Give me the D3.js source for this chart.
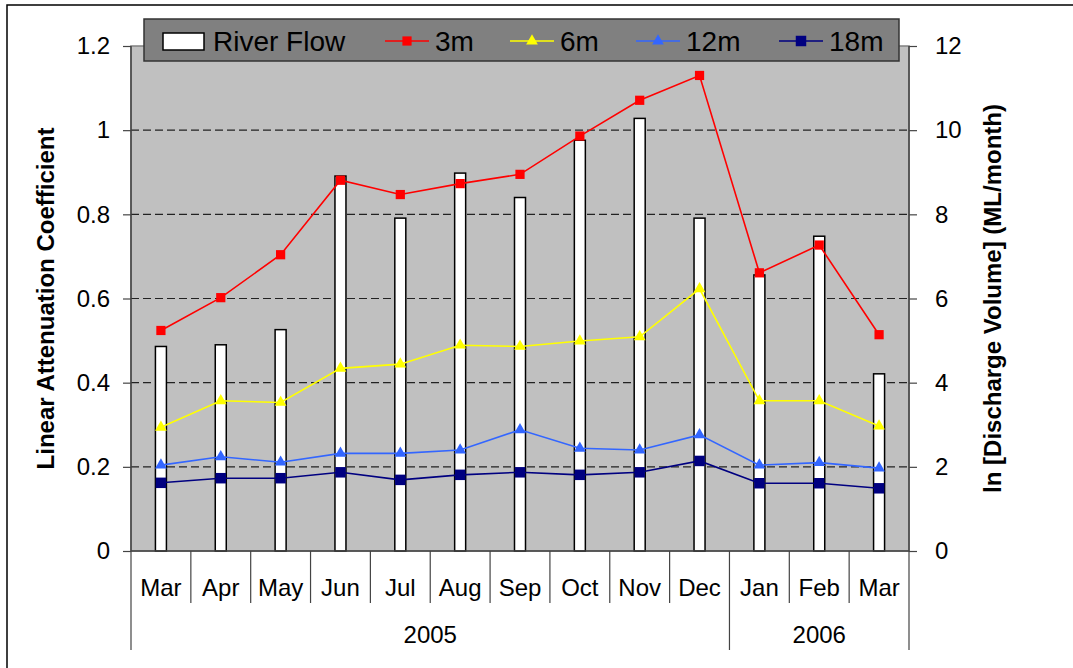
<html>
<head>
<script src="https://d3js.org/d3.v7.min.js"></script>
<style>
  body { margin: 0; background: #fff; }
  svg text { font-family: Arial, "Liberation Sans", sans-serif; fill: #000; }
</style>
</head>
<body>
<div id="chart"></div>
<script>
// data
var months = ["Mar","Apr","May","Jun","Jul","Aug","Sep","Oct","Nov","Dec","Jan","Feb","Mar"];
var years = [{label: "2005", n: 10}, {label: "2006", n: 3}];
var riverFlow = [4.86, 4.90, 5.26, 8.91, 7.91, 8.98, 8.40, 9.76, 10.28, 7.91, 6.56, 7.48, 4.21];
var att3m  = [0.524, 0.602, 0.704, 0.881, 0.847, 0.873, 0.895, 0.986, 1.071, 1.130, 0.661, 0.727, 0.514];
var att6m  = [0.294, 0.357, 0.353, 0.434, 0.444, 0.489, 0.486, 0.499, 0.509, 0.623, 0.357, 0.357, 0.297];
var att12m = [0.204, 0.224, 0.211, 0.232, 0.232, 0.240, 0.288, 0.244, 0.240, 0.276, 0.204, 0.210, 0.197];
var att18m = [0.162, 0.173, 0.173, 0.187, 0.169, 0.181, 0.187, 0.181, 0.187, 0.214, 0.161, 0.161, 0.149];
var leftTicks = [0, 0.2, 0.4, 0.6, 0.8, 1, 1.2];
var rightTicks = [0, 2, 4, 6, 8, 10, 12];

var W = 1073, H = 668;
var pLeft = 131, pRight = 909, pTop = 46, pBottom = 551;

var svg = d3.select("#chart").append("svg")
    .attr("width", W).attr("height", H);

// outer frame
svg.append("rect")
    .attr("x", 7).attr("y", 5).attr("width", 1100).attr("height", 700)
    .attr("fill", "#fff").attr("stroke", "#000").attr("stroke-width", 1.5);

var idx = d3.range(months.length);
var x = d3.scaleBand().domain(idx).range([pLeft, pRight]);
var yL = d3.scaleLinear().domain([0, 1.2]).range([pBottom, pTop]);
var yR = d3.scaleLinear().domain([0, 12]).range([pBottom, pTop]);

// plot background
svg.append("rect")
    .attr("x", pLeft).attr("y", pTop)
    .attr("width", pRight - pLeft).attr("height", pBottom - pTop)
    .attr("fill", "#c0c0c0").attr("stroke", "#808080").attr("stroke-width", 1.5);

// gridlines
svg.append("g").selectAll("line")
    .data(leftTicks.filter(function(d) { return d > 0 && d < 1.2; }))
    .enter().append("line")
    .attr("x1", pLeft).attr("x2", pRight)
    .attr("y1", function(d) { return yL(d); })
    .attr("y2", function(d) { return yL(d); })
    .attr("stroke", "#222").attr("stroke-width", 1.2)
    .attr("stroke-dasharray", "8,4");

// river flow bars
var barW = 11;
svg.append("g").selectAll("rect")
    .data(riverFlow)
    .enter().append("rect")
    .attr("x", function(d, i) { return x(i) + x.bandwidth() / 2 - barW / 2; })
    .attr("y", function(d) { return yR(d); })
    .attr("width", barW)
    .attr("height", function(d) { return pBottom - yR(d); })
    .attr("fill", "#fff").attr("stroke", "#000").attr("stroke-width", 1.5);

// axis lines
svg.append("line").attr("x1", pLeft).attr("x2", pLeft).attr("y1", pTop).attr("y2", pBottom)
    .attr("stroke", "#444").attr("stroke-width", 1.5);
svg.append("line").attr("x1", pRight).attr("x2", pRight).attr("y1", pTop).attr("y2", pBottom)
    .attr("stroke", "#444").attr("stroke-width", 1.5);
svg.append("line").attr("x1", pLeft).attr("x2", pRight).attr("y1", pBottom).attr("y2", pBottom)
    .attr("stroke", "#444").attr("stroke-width", 1.5);

var series = [
  {name: "3m",  data: att3m,  color: "#ff0000", shape: d3.symbolSquare,   size: 85},
  {name: "6m",  data: att6m,  color: "#ffff00", shape: d3.symbolTriangle, size: 60},
  {name: "12m", data: att12m, color: "#3366ff", shape: d3.symbolTriangle, size: 60},
  {name: "18m", data: att18m, color: "#000080", shape: d3.symbolSquare,   size: 110}
];

var line = d3.line()
    .x(function(d, i) { return x(i) + x.bandwidth() / 2; })
    .y(function(d) { return yL(d); });

series.forEach(function(s) {
  svg.append("path")
      .datum(s.data)
      .attr("d", line)
      .attr("fill", "none")
      .attr("stroke", s.color)
      .attr("stroke-width", 1.6);
  svg.append("g").selectAll("path")
      .data(s.data)
      .enter().append("path")
      .attr("d", d3.symbol().type(s.shape).size(s.size))
      .attr("transform", function(d, i) {
        return "translate(" + (x(i) + x.bandwidth() / 2) + "," + yL(d) + ")";
      })
      .attr("fill", s.color);
});

// left axis
var axL = svg.append("g")
    .attr("transform", "translate(" + pLeft + ",0)")
    .call(d3.axisLeft(yL).tickValues(leftTicks).tickSize(8).tickPadding(13)
        .tickFormat(function(d) { return String(+d.toFixed(1)); }));
axL.select(".domain").remove();
axL.selectAll("line").attr("stroke", "#444").attr("stroke-width", 1.2);
axL.selectAll("text").style("font-size", "24px").style("font-family", "Arial, 'Liberation Sans', sans-serif");

// right axis
var axR = svg.append("g")
    .attr("transform", "translate(" + pRight + ",0)")
    .call(d3.axisRight(yR).tickValues(rightTicks).tickSize(8).tickPadding(18));
axR.select(".domain").remove();
axR.selectAll("line").attr("stroke", "#444").attr("stroke-width", 1.2);
axR.selectAll("text").style("font-size", "24px").style("font-family", "Arial, 'Liberation Sans', sans-serif");

// category axis: separators between months, longer lines at year boundaries
var step = x.step();
svg.append("g").selectAll("line")
    .data(d3.range(months.length + 1))
    .enter().append("line")
    .attr("x1", function(i) { return pLeft + i * step; })
    .attr("x2", function(i) { return pLeft + i * step; })
    .attr("y1", pBottom)
    .attr("y2", function(i) { return (i === 0 || i === 10 || i === months.length) ? 650 : 603; })
    .attr("stroke", "#444").attr("stroke-width", 1.2);

svg.append("g").selectAll("text")
    .data(months)
    .enter().append("text")
    .attr("x", function(d, i) { return x(i) + x.bandwidth() / 2; })
    .attr("y", 588)
    .attr("dy", "0.35em")
    .attr("text-anchor", "middle")
    .style("font-size", "24px")
    .text(function(d) { return d; });

var start = 0;
years.forEach(function(yr) {
  var x0 = pLeft + start * step, x1 = pLeft + (start + yr.n) * step;
  svg.append("text")
      .attr("x", (x0 + x1) / 2)
      .attr("y", 635)
      .attr("dy", "0.35em")
      .attr("text-anchor", "middle")
      .style("font-size", "24px")
      .text(yr.label);
  start += yr.n;
});

// axis titles
svg.append("text")
    .attr("transform", "translate(46," + ((pTop + pBottom) / 2) + ") rotate(-90)")
    .attr("text-anchor", "middle")
    .attr("dy", "0.35em")
    .style("font-size", "24px").style("font-weight", "bold")
    .text("Linear Attenuation Coefficient");

svg.append("text")
    .attr("transform", "translate(993," + ((pTop + pBottom) / 2) + ") rotate(-90)")
    .attr("text-anchor", "middle")
    .attr("dy", "0.35em")
    .style("font-size", "24px").style("font-weight", "bold")
    .text("ln [Discharge Volume] (ML/month)");

// legend
var lg = svg.append("g");
lg.append("rect")
    .attr("x", 144).attr("y", 19).attr("width", 755).attr("height", 42)
    .attr("fill", "#808080").attr("stroke", "#333").attr("stroke-width", 1.5);
lg.append("rect")
    .attr("x", 163).attr("y", 33).attr("width", 41).attr("height", 17)
    .attr("fill", "#fff").attr("stroke", "#000").attr("stroke-width", 1.5);
lg.append("text").attr("x", 213).attr("y", 41).attr("dy", "0.35em")
    .style("font-size", "28px").text("River Flow");

var legendX = [385, 510, 636, 779];
series.forEach(function(s, i) {
  var lx = legendX[i];
  lg.append("line").attr("x1", lx).attr("x2", lx + 44).attr("y1", 41).attr("y2", 41)
      .attr("stroke", s.color).attr("stroke-width", 1.6);
  lg.append("path")
      .attr("d", d3.symbol().type(s.shape).size(s.size))
      .attr("transform", "translate(" + (lx + 22) + ",41)")
      .attr("fill", s.color);
  lg.append("text").attr("x", lx + 50).attr("y", 41).attr("dy", "0.35em")
      .style("font-size", "28px").text(s.name);
});
</script>
</body>
</html>
